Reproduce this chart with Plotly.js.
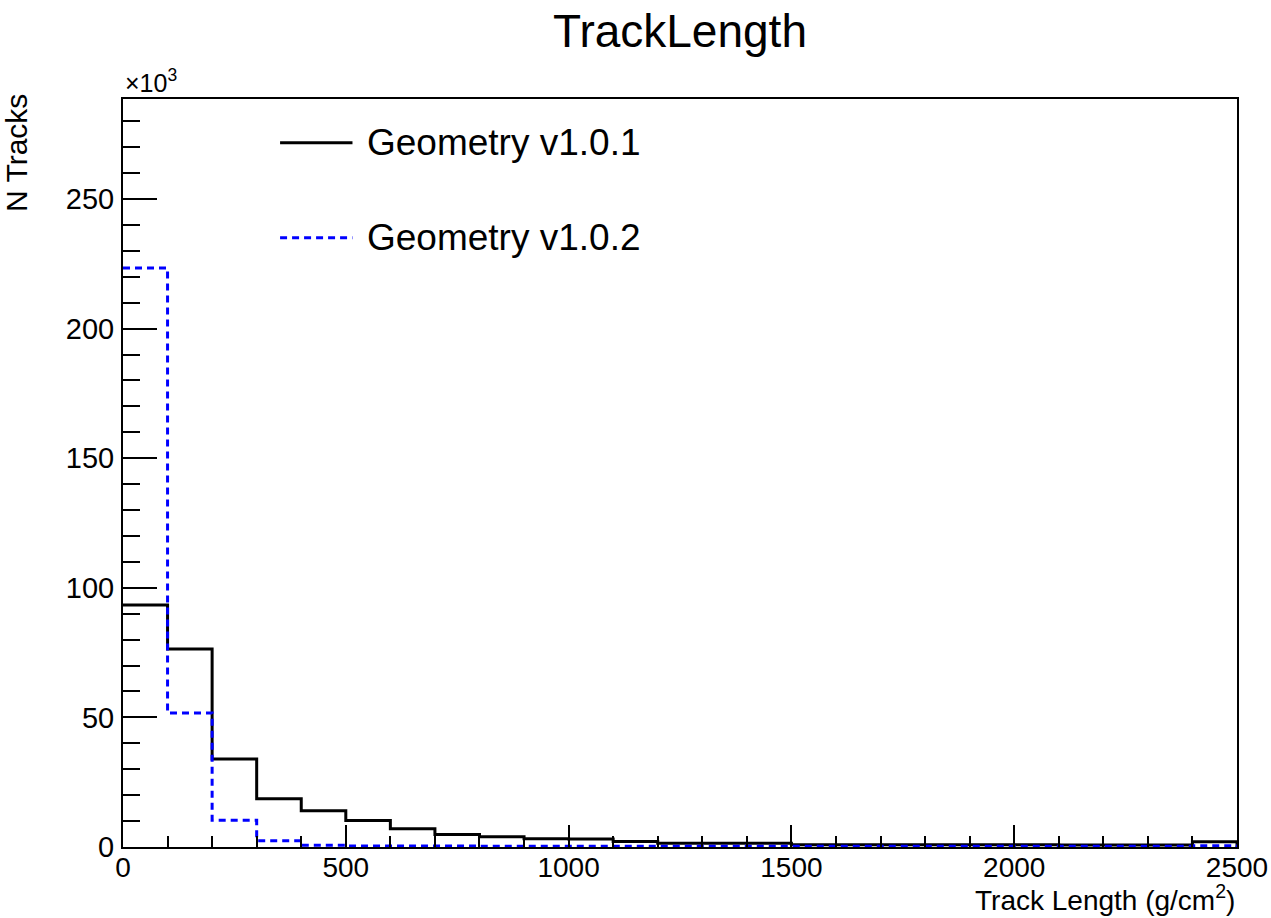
<!DOCTYPE html>
<html>
<head>
<meta charset="utf-8">
<script src="https://cdn.plot.ly/plotly-3.0.1.min.js"></script>
<style>
  html, body { margin: 0; padding: 0; background: #fff; }
  #chart { width: 1271px; height: 918px; }
</style>
</head>
<body>
<div id="chart"></div>
<script>
// Bin lower edges (g/cm^2), bin width 100
const binLow = [0, 100, 200, 300, 400, 500, 600, 700, 800, 900, 1000, 1100, 1200,
                1300, 1400, 1500, 1600, 1700, 1800, 1900, 2000, 2100, 2200, 2300, 2400];
const binWidth = 100;

// N Tracks, in units of 10^3
const geomV101 = [93.4, 76.4, 34.0, 18.6, 14.0, 10.2, 7.0, 4.8, 4.0, 3.2, 3.1, 2.1, 1.4,
                  1.4, 1.4, 0.9, 0.9, 0.9, 0.9, 0.9, 0.9, 0.8, 0.8, 0.8, 2.0];
const geomV102 = [223.4, 51.7, 10.3, 2.4, 0.7, 0.4, 0.4, 0.4, 0.3, 0.3, 0.3, 0.3, 0.3,
                  0.3, 0.3, 0.3, 0.3, 0.3, 0.3, 0.3, 0.3, 0.3, 0.3, 0.3, 0.5];

const seriesNames = ["Geometry v1.0.1", "Geometry v1.0.2"];
const titleText = "TrackLength";
const xTitle = "Track Length (g/cm<sup>2</sup>)";
const yTitle = "N Tracks";

function stepXY(vals) {
  const last = binLow[binLow.length - 1] + binWidth;
  const x = binLow.concat([last, last]);
  const y = vals.concat([vals[vals.length - 1], 0]);
  return {x, y};
}

const FONT = "Liberation Sans, Arial, Helvetica, sans-serif";
const s1 = stepXY(geomV101);
const s2 = stepXY(geomV102);

const traces = [
  {type: "scatter", mode: "lines", name: seriesNames[0], x: s1.x, y: s1.y,
   line: {shape: "hv", color: "#000000", width: 3}, showlegend: false},
  {type: "scatter", mode: "lines", name: seriesNames[1], x: s2.x, y: s2.y,
   line: {shape: "hv", color: "#0000ff", width: 3, dash: "7px,5px"}, showlegend: false}
];

const layout = {
  width: 1271, height: 918,
  margin: {l: 123, r: 34, t: 99, b: 71, pad: 0},
  paper_bgcolor: "#ffffff", plot_bgcolor: "#ffffff",
  font: {family: FONT, color: "#000"},
  title: {text: titleText, font: {size: 46, family: FONT, color: "#000"},
          x: 0.535, xanchor: "center", y: 0.966, yanchor: "middle"},
  showlegend: false,
  xaxis: {
    range: [0, 2500], showgrid: false, zeroline: false,
    showline: true, linecolor: "#000", linewidth: 2, mirror: true,
    ticks: "inside", ticklen: 22, tickwidth: 2, tickcolor: "#000",
    dtick: 500, tick0: 0, ticklabelstandoff: -6,
    tickfont: {size: 28, family: FONT, color: "#000"},
    minor: {dtick: 100, ticks: "inside", ticklen: 11, tickwidth: 2, tickcolor: "#000", showgrid: false}
  },
  yaxis: {
    range: [0, 288.6], showgrid: false, zeroline: false,
    showline: true, linecolor: "#000", linewidth: 2, mirror: true,
    ticks: "inside", ticklen: 34, tickwidth: 2, tickcolor: "#000",
    dtick: 50, tick0: 0, ticklabelstandoff: 1,
    tickfont: {size: 29, family: FONT, color: "#000"},
    minor: {dtick: 10, ticks: "inside", ticklen: 17, tickwidth: 2, tickcolor: "#000", showgrid: false}
  },
  shapes: [
    {type: "line", xref: "paper", yref: "paper", x0: 0.141, x1: 0.206, y0: 0.9415, y1: 0.9415,
     line: {color: "#000", width: 3}},
    {type: "line", xref: "paper", yref: "paper", x0: 0.141, x1: 0.206, y0: 0.8145, y1: 0.8145,
     line: {color: "#0000ff", width: 3, dash: "7px,5px"}}
  ],
  annotations: [
    {text: seriesNames[0], xref: "paper", yref: "paper", x: 0.217, y: 0.9415,
     xanchor: "left", yanchor: "middle", showarrow: false,
     font: {size: 37, family: FONT, color: "#000"}},
    {text: seriesNames[1], xref: "paper", yref: "paper", x: 0.217, y: 0.8145,
     xanchor: "left", yanchor: "middle", showarrow: false,
     font: {size: 37, family: FONT, color: "#000"}},
    {text: xTitle, xref: "paper", yref: "paper", x: 1, y: -0.095,
     xanchor: "right", yanchor: "bottom", showarrow: false,
     font: {size: 28, family: FONT, color: "#000"}},
    {text: yTitle, xref: "paper", yref: "paper", x: -0.112, y: 1.009, textangle: -90,
     xanchor: "left", yanchor: "top", showarrow: false,
     font: {size: 30, family: FONT, color: "#000"}},
    {text: "\u00d710<sup>3</sup>", xref: "paper", yref: "paper", x: 0, y: 1.0,
     xanchor: "left", yanchor: "bottom", showarrow: false,
     font: {size: 25, family: FONT, color: "#000"}}
  ]
};

Plotly.newPlot("chart", traces, layout, {displayModeBar: false, staticPlot: true});
</script>
</body>
</html>
